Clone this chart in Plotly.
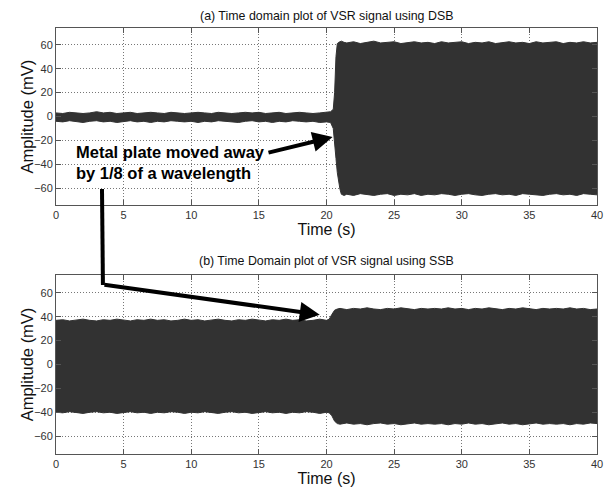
import plotly.graph_objects as go

# -----------------------------------------------------------------------------
# DATA  (envelope of the dense VSR signal, in mV)
# -----------------------------------------------------------------------------
t_dsb = [0, 0.5, 1, 1.5, 2, 2.5, 3, 3.5, 4, 4.5, 5, 5.5, 6, 6.5, 7, 7.5, 8, 8.5, 9, 9.5,
         10, 10.5, 11, 11.5, 12, 12.5, 13, 13.5, 14, 14.5, 15, 15.5, 16, 16.5, 17, 17.5, 18, 18.5, 19, 19.5, 20,
         20.3, 20.5, 20.6, 20.7, 20.8, 20.9, 21.0, 21.1, 21.3,
         21.5, 22, 22.5, 23, 23.5, 24, 24.5, 25, 25.5, 26, 26.5, 27, 27.5, 28, 28.5, 29, 29.5, 30,
         30.5, 31, 31.5, 32, 32.5, 33, 33.5, 34, 34.5, 35, 35.5, 36, 36.5, 37, 37.5, 38, 38.5, 39, 39.5, 40]
dsb_upper = [3, 2.5, 3.5, 3, 2.5, 3, 4, 3, 3.5, 2.5, 3, 3.5, 2.5, 3, 3.5, 3, 2.5, 3.5, 3, 2.5,
             3, 3.5, 3, 2.5, 3.5, 3, 2.5, 3, 3.5, 3, 3.5, 2.5, 3, 3.5, 2.5, 3, 3.5, 3, 2.5, 3, 3.5,
             4, 6, 20, 50, 61, 62, 62.5, 63, 62,
             61.5, 62.5, 61, 62, 63, 61.5, 62, 62.5, 61, 62, 62.5, 61.5, 62, 61, 62.5, 61.5, 62, 62.5,
             61, 62, 61.5, 62.5, 61, 62, 62.5, 61.5, 62, 61, 62.5, 61.5, 62, 62.5, 61, 62, 61.5, 62.5, 61.5, 62]
dsb_lower = [-4, -4.5, -3.5, -4, -5, -4, -3.5, -4.5, -4, -5, -4, -3.5, -4.5, -4, -5, -4, -4.5, -3.5, -4, -4.5,
             -4, -5, -4, -4.5, -3.5, -4, -4.5, -5, -4, -3.5, -4.5, -4, -5, -4, -4.5, -3.5, -4, -4.5, -4, -5, -4.5,
             -5, -10, -20, -35, -47, -55, -61, -65, -66,
             -65, -66, -64.5, -65.5, -66, -65, -64.5, -66, -65, -65.5, -64.5, -66, -65, -65.5, -64.5, -65, -66, -65,
             -64.5, -65.5, -66, -65, -64.5, -65.5, -65, -66, -64.5, -65, -65.5, -66, -65, -64.5, -65.5, -65, -66, -64.5, -65, -65.5]

t_ssb = [0, 0.5, 1, 1.5, 2, 2.5, 3, 3.5, 4, 4.5, 5, 5.5, 6, 6.5, 7, 7.5, 8, 8.5, 9, 9.5,
         10, 10.5, 11, 11.5, 12, 12.5, 13, 13.5, 14, 14.5, 15, 15.5, 16, 16.5, 17, 17.5, 18, 18.5, 19, 19.5, 20,
         20.2, 20.4, 20.6, 20.8,
         21, 21.5, 22, 22.5, 23, 23.5, 24, 24.5, 25, 25.5, 26, 26.5, 27, 27.5, 28, 28.5, 29, 29.5, 30,
         30.5, 31, 31.5, 32, 32.5, 33, 33.5, 34, 34.5, 35, 35.5, 36, 36.5, 37, 37.5, 38, 38.5, 39, 39.5, 40]
ssb_upper = [37, 37.5, 36.5, 37, 38, 37, 36.5, 37.5, 37, 38, 37, 36.5, 37.5, 37, 38, 37, 37.5, 36.5, 37, 38,
             37, 37.5, 36.5, 37, 38, 37, 36.5, 37.5, 37, 38, 37, 36.5, 37.5, 37, 38, 37, 37.5, 36.5, 37, 38, 37,
             38, 42, 45.5, 46.5,
             47, 46, 47, 46.5, 47.5, 46.5, 46, 47, 46.5, 47.5, 46.5, 46, 47, 46.5, 47, 46.5, 47.5, 46.5, 47,
             46, 47, 46.5, 47.5, 46.5, 46, 47, 46.5, 47.5, 46.5, 46, 47, 46.5, 47, 46.5, 47.5, 46.5, 47, 46, 46.5]
ssb_lower = [-40, -40.5, -39.5, -40, -41, -40, -39.5, -40.5, -40, -41, -40, -39.5, -40.5, -40, -41, -40, -40.5, -39.5, -40, -41,
             -40, -40.5, -39.5, -40, -41, -40, -39.5, -40.5, -40, -41, -40, -39.5, -40.5, -40, -41, -40, -40.5, -39.5, -40, -41, -40,
             -40.5, -43, -47.5, -49.5,
             -50, -49, -50, -49.5, -50.5, -49.5, -49, -50, -49.5, -50.5, -49.5, -49, -50, -49.5, -50, -49.5, -50.5, -49.5, -50,
             -49, -50, -49.5, -50.5, -49.5, -49, -50, -49.5, -50.5, -49.5, -49, -50, -49.5, -50, -49.5, -50.5, -49.5, -50, -49, -49.5]

x_ticks = [0, 5, 10, 15, 20, 25, 30, 35, 40]
y_ticks = [-60, -40, -20, 0, 20, 40, 60]

band_col = '#323232'
font_name = 'Liberation Sans, Arial, sans-serif'

# -----------------------------------------------------------------------------
# FIGURE
# -----------------------------------------------------------------------------
fig = go.Figure()

def add_band(t, lo, hi, xa, ya):
    fig.add_trace(go.Scatter(x=t, y=lo, mode='lines', line=dict(color=band_col, width=1),
                             xaxis=xa, yaxis=ya, showlegend=False, hoverinfo='skip'))
    fig.add_trace(go.Scatter(x=t, y=hi, mode='lines', line=dict(color=band_col, width=1),
                             fill='tonexty', fillcolor=band_col,
                             xaxis=xa, yaxis=ya, showlegend=False, hoverinfo='skip'))

add_band(t_dsb, dsb_lower, dsb_upper, 'x', 'y')
add_band(t_ssb, ssb_lower, ssb_upper, 'x2', 'y2')

axis_common = dict(
    showline=True, linecolor='#555555', linewidth=1, mirror='ticks',
    ticks='inside', ticklen=5, tickcolor='#555555',
    showgrid=True, gridcolor='#777777', griddash='1px,2px', gridwidth=1,
    zeroline=False, automargin=False,
    tickfont=dict(family=font_name, size=11, color='#333333'),
)

# page body adds an 8px offset, so the figure is 8px smaller than the window
fig.update_layout(
    width=604, height=484,
    margin=dict(l=48, r=15, t=20, b=38),
    plot_bgcolor='white', paper_bgcolor='white',
    font=dict(family=font_name, color='#111111'),
    xaxis=dict(axis_common, domain=[0, 1], range=[0, 40], tickvals=x_ticks, anchor='y',
               title=dict(text='Time (s)', font=dict(size=16), standoff=1)),
    yaxis=dict(axis_common, domain=[0.5845, 1], range=[-74, 74], tickvals=y_ticks, anchor='x'),
    xaxis2=dict(axis_common, domain=[0, 1], range=[0, 40], tickvals=x_ticks, anchor='y2',
                title=dict(text='Time (s)', font=dict(size=16), standoff=1)),
    yaxis2=dict(axis_common, domain=[0, 0.4202], range=[-75, 75], tickvals=y_ticks, anchor='x2'),
)

# y-axis titles (placed by hand, slightly closer to the ticks than plotly allows)
for yc in [0.792, 0.21]:
    fig.add_annotation(text='Amplitude (mV)', xref='paper', yref='paper', x=-0.054, y=yc,
                       textangle=-90, showarrow=False, xanchor='center', yanchor='middle',
                       font=dict(size=16.5, color='#111111'))

# -----------------------------------------------------------------------------
# TITLES
# -----------------------------------------------------------------------------
fig.add_annotation(text='(a) Time domain plot of VSR signal using DSB', xref='paper', yref='paper',
                   x=0.5, y=1.028, showarrow=False, yanchor='middle',
                   font=dict(size=12.4, color='#111111'))
fig.add_annotation(text='(b) Time Domain plot of VSR signal using SSB', xref='paper', yref='paper',
                   x=0.5, y=0.452, showarrow=False, yanchor='middle',
                   font=dict(size=12.4, color='#111111'))

# -----------------------------------------------------------------------------
# ANNOTATION + ARROWS
# -----------------------------------------------------------------------------
fig.add_annotation(text='<b>Metal plate moved away<br>by 1/8 of a wavelength</b>',
                   xref='x', yref='y', x=1.3, y=-38.4, xanchor='left', yanchor='middle',
                   align='left', showarrow=False, font=dict(size=16.5, color='black'))

fig.add_annotation(xref='x', yref='y', x=20.45, y=-17.1, axref='x', ayref='y', ax=15.6, ay=-30.5,
                   showarrow=True, arrowhead=2, arrowsize=1, arrowwidth=4, arrowcolor='black', text='')

# vertical leg between the two panels
fig.add_shape(type='line', xref='x', yref='paper', x0=3.4, x1=3.47, y0=0.622, y1=0.3967,
              line=dict(color='black', width=4))
fig.add_annotation(xref='x2', yref='y2', x=19.5, y=41.7, axref='x2', ayref='y2', ax=3.47, ay=67,
                   showarrow=True, arrowhead=2, arrowsize=1, arrowwidth=4, arrowcolor='black', text='')

fig.write_html("out.html")
